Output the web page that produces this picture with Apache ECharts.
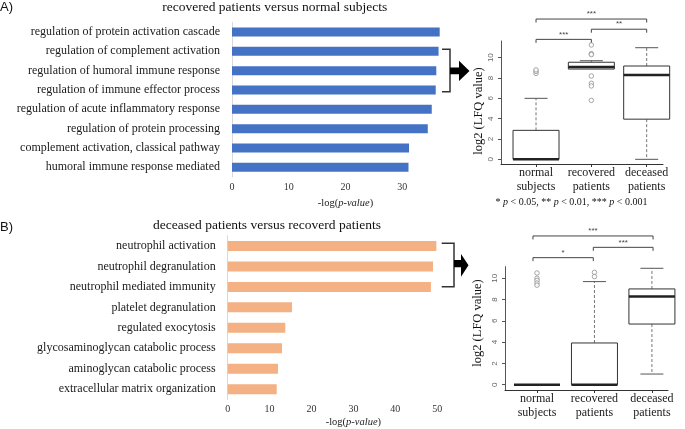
<!DOCTYPE html>
<html><head><meta charset="utf-8">
<script src="https://cdn.jsdelivr.net/npm/echarts@6/dist/echarts.min.js"></script>
<style>html,body{margin:0;padding:0;background:#fff}#c{width:685px;height:429px}</style>
</head><body><div id="c"></div>
<script>
// ---------- data ----------
const catsA = ['regulation of protein activation cascade','regulation of complement activation','regulation of humoral immune response','regulation of immune effector process','regulation of acute inflammatory response','regulation of protein processing','complement activation, classical pathway','humoral immune response mediated'];
const valsA = [36.6, 36.4, 36.0, 35.9, 35.2, 34.5, 31.2, 31.1];
const catsB = ['neutrophil activation','neutrophil degranulation','neutrophil mediated immunity','platelet degranulation','regulated exocytosis','glycosaminoglycan catabolic process','aminoglycan catabolic process','extracellular matrix organization'];
const valsB = [49.8, 49.0, 48.5, 15.35, 13.75, 12.96, 12.0, 11.7];
const groupNames = ['normal\nsubjects', 'recovered\npatients', 'deceased\npatients'];
// [group, min, Q1, median, Q3, max]
const boxA = [[1, 0, 0, 0, 2.85, 6.0], [2, 8.85, 8.88, 9.07, 9.55, 9.7], [3, 0, 3.95, 8.3, 9.18, 10.98]];
const outA = [[1, 8.45], [1, 8.65], [1, 8.8], [2, 11.25], [2, 10.4], [2, 10.3], [2, 8.2], [2, 7.48], [2, 7.22], [2, 5.8]];
const boxB = [[1, 0, 0, 0, 0, 0], [2, 0, 0, 0, 3.92, 9.69], [3, 1.0, 5.7, 8.3, 9.0, 10.94]];
const outB = [[1, 10.5], [1, 10.0], [1, 9.8], [1, 9.55], [1, 9.35], [2, 10.56], [2, 10.16]];
const sigA = [[1, 3, 13.8], [2, 3, 12.8], [1, 2, 11.8]];
const sigLabA = ['***', '**', '***'];
const sigB = [[0.93, 3.02, 13.98], [1.98, 3.02, 12.91], [0.93, 1.98, 11.94]];
const sigLabB = ['***', '***', '*'];
const boxTicks = [0, 2, 4, 6, 8, 10];
const groupTicks = [1, 2, 3];

// ---------- styles ----------
const serif = '"Liberation Serif","Times New Roman",serif';
const sans = '"Liberation Sans",Arial,sans-serif';

function renderBox(params, api) {
  const x = api.value(0);
  const ys = [1, 2, 3, 4, 5].map(i => api.coord([x, api.value(i)])[1]);
  const cx = api.coord([x, 0])[0];
  const [yMin, yQ1, yMed, yQ3, yMax] = ys;
  const hw = 23, cw = 11.5;
  const stroke = '#333';
  const dash = {stroke: '#777', lineWidth: 1, lineDash: [3, 2]};
  const ch = [];
  if (yMax < yQ3 - 0.5) {
    ch.push({type: 'line', shape: {x1: cx, y1: yQ3, x2: cx, y2: yMax}, style: dash});
    ch.push({type: 'line', shape: {x1: cx - cw, y1: yMax, x2: cx + cw, y2: yMax}, style: {stroke: '#555', lineWidth: 1}});
  }
  if (yMin > yQ1 + 0.5) {
    ch.push({type: 'line', shape: {x1: cx, y1: yQ1, x2: cx, y2: yMin}, style: dash});
    ch.push({type: 'line', shape: {x1: cx - cw, y1: yMin, x2: cx + cw, y2: yMin}, style: {stroke: '#555', lineWidth: 1}});
  }
  ch.push({type: 'rect', shape: {x: cx - hw, y: yQ3, width: 2 * hw, height: yQ1 - yQ3}, style: {fill: '#fff', stroke: stroke, lineWidth: 1}});
  ch.push({type: 'line', shape: {x1: cx - hw, y1: yMed, x2: cx + hw, y2: yMed}, style: {stroke: '#222', lineWidth: 2.5}});
  return {type: 'group', children: ch};
}
function sigRenderer(labels) {
  return function (params, api) {
    const a = api.coord([api.value(0), api.value(2)]);
    const b = api.coord([api.value(1), api.value(2)]);
    const drop = 3.5;
    return {type: 'group', children: [
      {type: 'polyline', shape: {points: [[a[0], a[1] + drop], [a[0], a[1]], [b[0], b[1]], [b[0], b[1] + drop]]}, style: {stroke: '#444', lineWidth: 1, fill: null}},
      {type: 'text', x: (a[0] + b[0]) / 2, y: a[1] - 1, style: {text: labels[params.dataIndex], align: 'center', verticalAlign: 'bottom', fontSize: 8, fill: '#444', fontFamily: sans}}
    ]};
  };
}

function barX(max, gap, nameGap) {
  return {
    type: 'value', min: 0, max: max, interval: 10,
    axisLine: {show: false}, axisTick: {show: false}, splitLine: {show: false},
    axisLabel: {showMaxLabel: false, fontFamily: serif, fontSize: 10, color: '#333', margin: gap},
    name: '{a|-log(}{b|p-value}{a|)}', nameLocation: 'middle', nameGap: nameGap,
    nameTextStyle: {rich: {a: {fontFamily: serif, fontSize: 10.5, color: '#222'}, b: {fontFamily: serif, fontSize: 10.5, fontStyle: 'italic', color: '#222'}}}
  };
}
function barY(cats) {
  return {
    type: 'category', data: cats, inverse: true,
    axisLine: {show: true, lineStyle: {color: '#d9d9d9', width: 1}}, axisTick: {show: false},
    axisLabel: {fontFamily: serif, fontSize: 12, color: '#1a1a1a', margin: 12}
  };
}
function boxX(min, max, margin) {
  return {
    type: 'value', min: min, max: max,
    axisLine: {show: true, onZero: false, lineStyle: {color: '#333', width: 1}},
    axisTick: {show: true, customValues: groupTicks, length: 3, lineStyle: {color: '#333'}},
    axisLabel: {customValues: groupTicks, formatter: v => groupNames[Math.round(v) - 1], fontFamily: serif, fontSize: 12, lineHeight: 14, color: '#1a1a1a', margin: margin},
    splitLine: {show: false}
  };
}
function boxY(min, max) {
  return {
    type: 'value', min: min, max: max,
    axisLine: {show: true, onZero: false, lineStyle: {color: '#555', width: 1}},
    axisTick: {show: true, customValues: boxTicks, length: 3, lineStyle: {color: '#555'}},
    axisLabel: {customValues: boxTicks, rotate: 90, fontFamily: sans, fontSize: 8, color: '#666', margin: 6},
    splitLine: {show: false}
  };
}
const outlierStyle = {symbol: 'circle', symbolSize: 4.5, itemStyle: {color: '#fff', borderColor: '#777', borderWidth: 0.8}, z: 3};

const chart = echarts.init(document.getElementById('c'), null, {renderer: 'canvas'});
chart.setOption({
  animation: false,
  backgroundColor: '#fff',
  grid: [
    {left: 232, top: 22.3, width: 227, height: 154.7},
    {left: 227.7, top: 235.7, width: 251.4, height: 165.3},
    {left: 501, top: 41, width: 162, height: 123},
    {left: 505, top: 266.7, width: 163, height: 123.3}
  ],
  xAxis: [
    Object.assign(barX(40, 5, 21), {gridIndex: 0}),
    Object.assign(barX(60, 5, 17.5), {gridIndex: 1}),
    Object.assign(boxX(0.367, 3.295, 2), {gridIndex: 2}),
    Object.assign(boxX(0.443, 3.28, 2), {gridIndex: 3})
  ],
  yAxis: [
    Object.assign(barY(catsA), {gridIndex: 0}),
    Object.assign(barY(catsB), {gridIndex: 1}),
    Object.assign(boxY(-0.46, 11.64), {gridIndex: 2}),
    Object.assign(boxY(-0.5, 11.09), {gridIndex: 3})
  ],
  series: [
    {type: 'bar', xAxisIndex: 0, yAxisIndex: 0, data: valsA, barWidth: 9, itemStyle: {color: '#4472C4'}},
    {type: 'bar', xAxisIndex: 1, yAxisIndex: 1, data: valsB, barWidth: 10, itemStyle: {color: '#F4B183'}},
    {type: 'custom', xAxisIndex: 2, yAxisIndex: 2, data: boxA, dimensions: ['g', 'min', 'q1', 'med', 'q3', 'max'], encode: {x: 0, y: [1, 2, 3, 4, 5]}, renderItem: renderBox, clip: false, z: 2},
    {type: 'custom', xAxisIndex: 3, yAxisIndex: 3, data: boxB, dimensions: ['g', 'min', 'q1', 'med', 'q3', 'max'], encode: {x: 0, y: [1, 2, 3, 4, 5]}, renderItem: renderBox, clip: false, z: 2},
    Object.assign({type: 'scatter', xAxisIndex: 2, yAxisIndex: 2, data: outA}, outlierStyle),
    Object.assign({type: 'scatter', xAxisIndex: 3, yAxisIndex: 3, data: outB}, outlierStyle),
    {type: 'custom', xAxisIndex: 2, yAxisIndex: 2, data: sigA, dimensions: ['x1', 'x2', 'y'], encode: {x: [0, 1], y: 2}, renderItem: sigRenderer(sigLabA), clip: false},
    {type: 'custom', xAxisIndex: 3, yAxisIndex: 3, data: sigB, dimensions: ['x1', 'x2', 'y'], encode: {x: [0, 1], y: 2}, renderItem: sigRenderer(sigLabB), clip: false}
  ],
  graphic: [
    {type: 'text', x: 0, y: 7, style: {text: 'A)', fontFamily: sans, fontSize: 13, fill: '#111', verticalAlign: 'middle'}},
    {type: 'text', x: 0, y: 227, style: {text: 'B)', fontFamily: sans, fontSize: 13, fill: '#111', verticalAlign: 'middle'}},
    {type: 'text', x: 274.7, y: 7.5, style: {text: 'recovered patients versus normal subjects', fontFamily: serif, fontSize: 13.5, fill: '#111', align: 'center', verticalAlign: 'middle'}},
    {type: 'text', x: 267, y: 225.5, style: {text: 'deceased patients versus recoverd patients', fontFamily: serif, fontSize: 13.5, fill: '#111', align: 'center', verticalAlign: 'middle'}},
    {type: 'text', x: 571.5, y: 202, style: {text: '* {i|p} < 0.05, ** {i|p} < 0.01, *** {i|p} < 0.001', rich: {i: {fontFamily: serif, fontSize: 10, fontStyle: 'italic', fill: '#111'}}, fontFamily: serif, fontSize: 10, fill: '#111', align: 'center', verticalAlign: 'middle'}},
    {type: 'text', x: 479, y: 111, rotation: Math.PI / 2, style: {text: 'log2 (LFQ value)', fontFamily: serif, fontSize: 12.5, fill: '#111', align: 'center', verticalAlign: 'middle'}},
    {type: 'text', x: 478, y: 323, rotation: Math.PI / 2, style: {text: 'log2 (LFQ value)', fontFamily: serif, fontSize: 12.5, fill: '#111', align: 'center', verticalAlign: 'middle'}},
    {type: 'polyline', shape: {points: [[442, 49.3], [450, 49.3], [450, 91.7], [442, 91.7]]}, style: {stroke: '#333', lineWidth: 1.5, fill: null}},
    {type: 'polygon', shape: {points: [[450, 67.5], [459, 67.5], [459, 60.7], [469.5, 71], [459, 81], [459, 74.3], [450, 74.3]]}, style: {fill: '#000'}},
    {type: 'polyline', shape: {points: [[441.7, 243.3], [454, 243.3], [454, 286.7], [441.7, 286.7]]}, style: {stroke: '#333', lineWidth: 1.5, fill: null}},
    {type: 'polygon', shape: {points: [[454, 260], [461, 260], [461, 254], [468.5, 265.3], [461, 276.7], [461, 267.3], [454, 267.3]]}, style: {fill: '#000'}}
  ]
});
</script>
</body></html>
